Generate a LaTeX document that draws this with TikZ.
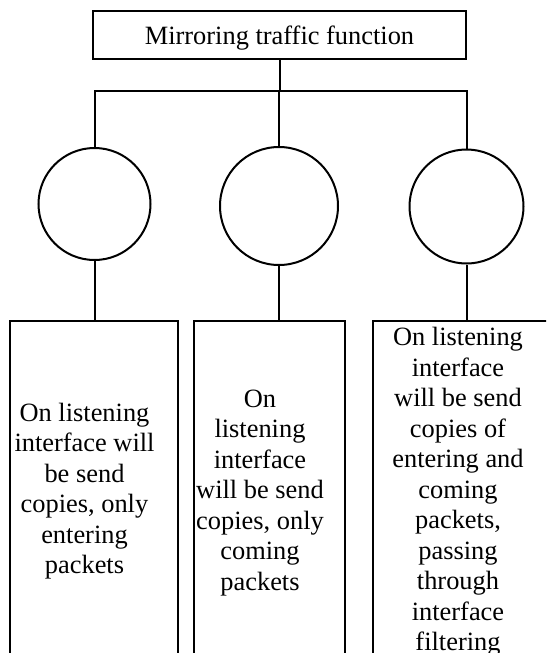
\documentclass[tikz,border=0pt]{standalone}
\usepackage{fontspec}
\setmainfont{Liberation Serif}
\begin{document}
\begin{tikzpicture}[x=1pt,y=-1pt,
  line/.style={line width=2pt},
  topbox/.style={draw, line width=2pt, inner sep=0pt, minimum width=373pt, minimum height=48pt},
  circ/.style={draw, circle, line width=2pt, inner sep=0pt},
  bbox/.style={draw, line width=2.3pt, inner sep=0pt, anchor=north west, minimum height=400pt},
  txt/.style={inner sep=0pt, align=center, font=\fontsize{26.4pt}{30.5pt}\selectfont},
]
\useasboundingbox (0,0) rectangle (546,653);
\clip (0,0) rectangle (546,653);
\node[topbox] (top) at (279.5,35) {};
\node[txt, anchor=base] (toptxt) at (279.5,44) {Mirroring traffic function};
\node[circ, minimum size=112pt] (c1) at (94.5,204) {};
\node[circ, minimum size=118pt] (c2) at (279,206) {};
\node[circ, minimum size=114pt] (c3) at (466.5,206.5) {};
\node[bbox, minimum width=168pt] (b1) at (9,320) {};
\node[bbox, minimum width=151pt] (b2) at (193,320) {};
\node[bbox, minimum width=200pt] (b3) at (372,320) {};
\coordinate (J) at (279,91);
\draw[line] (top.south) -- (top.south |- J);
\draw[line] (c1.north) -- (c1.north |- J) -- (c3.north |- J) -- (c3.north);
\draw[line] (J) -- (c2.north);
\draw[line] (c1.south) -- (c1.south |- b1.north);
\draw[line] (c2.south) -- (c2.south |- b2.north);
\draw[line] (c3.south) -- (c3.south |- b3.north);
\node[txt, anchor=north] (t1) at (84.5,402.5) {\rule{0pt}{18pt}On listening\\interface will\\be send\\copies, only\\entering\\packets};
\node[txt, anchor=north] (t2) at (260,389) {\rule{0pt}{18pt}On\\listening\\interface\\will be send\\copies, only\\coming\\packets};
\node[txt, anchor=north] (t3) at (458,327) {\rule{0pt}{18pt}On listening\\interface\\will be send\\copies of\\entering and\\coming\\packets,\\passing\\through\\interface\\filtering};
\end{tikzpicture}
\end{document}
